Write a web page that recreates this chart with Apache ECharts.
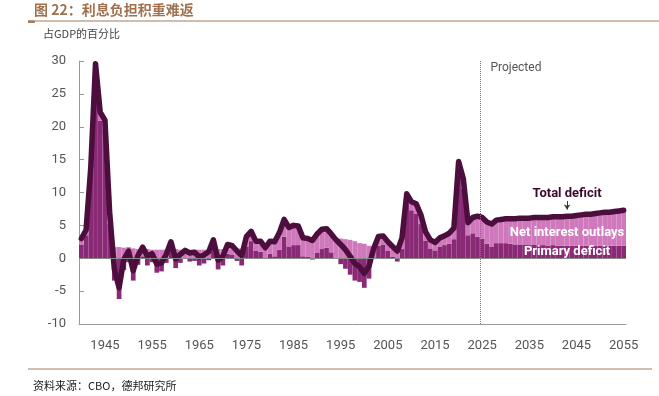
<!DOCTYPE html>
<html>
<head>
<meta charset="utf-8">
<script src="https://cdn.jsdelivr.net/npm/echarts@6/dist/echarts.min.js"></script>
<style>
  html, body { margin: 0; padding: 0; background: #fff; }
  #main { width: 659px; height: 396px; }
</style>
</head>
<body>
<div id="main"></div>
<script>
// 年份 1940-2055
var years = [];
for (var y = 1940; y <= 2055; y++) years.push(String(y));

var xTickLabels = ["1945", "1955", "1965", "1975", "1985", "1995", "2005", "2015", "2025", "2035", "2045", "2055"];

// 基本赤字（占GDP%）
var primaryDeficit = [
  2.1, 3.5, 13.2, 28.7, 20.9, 19.6, 5.2, -3.4, -6.2, -1.8,
  -0.6, -3.4, -1.0, 0.3, -1.1, -0.6, -2.2, -2.0, -0.7, 1.2,
  -1.5, -0.7, -0.1, -0.5, -0.4, -1.1, -0.8, -0.3, 1.5, -1.7,
  -1.1, 0.7, 0.5, -0.4, -1.1, 1.8, 2.6, 1.1, 1.0, -0.1,
  0.7, 0.3, 1.3, 3.3, 1.8, 2.0, 2.0, 0.3, 0.2, -0.2,
  0.8, 1.4, 1.6, 0.9, 0.1, -0.9, -1.6, -2.5, -3.4, -3.6,
  -4.5, -3.1, -0.1, 1.9, 2.1, 1.1, 0.2, -0.5, 1.4, 8.5,
  7.3, 6.8, 5.2, 2.7, 1.5, 1.2, 1.8, 2.0, 2.2, 2.9,
  13.1, 10.6, 3.5, 3.8, 3.3, 3.0, 2.2, 1.8, 2.3, 2.3,
  2.3, 2.2, 2.1, 2.1, 2.1, 2.0, 2.1, 2.0, 2.0, 1.9,
  2.0, 1.9, 1.9, 1.9, 1.9, 1.9, 1.9, 1.9, 1.9, 1.9,
  1.9, 1.9, 1.9, 1.9, 1.9, 1.9
];

// 净利息支出（占GDP%）
var netInterest = [
  0.9, 0.8, 0.7, 0.9, 1.3, 1.4, 1.8, 1.7, 1.7, 1.6,
  1.7, 1.5, 1.4, 1.4, 1.4, 1.3, 1.3, 1.3, 1.3, 1.3,
  1.4, 1.3, 1.3, 1.3, 1.3, 1.3, 1.3, 1.3, 1.3, 1.4,
  1.4, 1.4, 1.4, 1.5, 1.5, 1.5, 1.5, 1.5, 1.6, 1.7,
  1.9, 2.2, 2.6, 2.6, 2.9, 3.0, 2.9, 2.8, 2.8, 2.9,
  2.9, 3.0, 2.9, 2.8, 2.7, 3.0, 2.9, 2.8, 2.6, 2.3,
  2.2, 1.9, 1.6, 1.4, 1.3, 1.4, 1.6, 1.6, 1.7, 1.3,
  1.3, 1.5, 1.4, 1.3, 1.3, 1.2, 1.3, 1.4, 1.6, 1.7,
  1.6, 1.5, 1.9, 2.4, 3.1, 3.2, 3.3, 3.4, 3.5, 3.6,
  3.7, 3.8, 3.9, 4.0, 4.0, 4.1, 4.1, 4.2, 4.2, 4.3,
  4.3, 4.4, 4.4, 4.5, 4.5, 4.6, 4.7, 4.8, 4.8, 4.9,
  5.0, 5.1, 5.1, 5.2, 5.3, 5.4
];

// 总赤字（占GDP%）
var totalDeficit = [
  3.0, 4.3, 13.9, 29.6, 22.2, 21.0, 7.0, -1.7, -4.5, -0.2,
  1.1, -1.9, 0.4, 1.7, 0.3, 0.7, -0.9, -0.7, 0.6, 2.5,
  -0.1, 0.6, 1.2, 0.8, 0.9, 0.2, 0.5, 1.0, 2.8, -0.3,
  0.3, 2.1, 1.9, 1.1, 0.4, 3.3, 4.1, 2.6, 2.6, 1.6,
  2.6, 2.5, 3.9, 5.9, 4.7, 5.0, 4.9, 3.1, 3.0, 2.7,
  3.7, 4.4, 4.5, 3.7, 2.8, 2.1, 1.3, 0.3, -0.8, -1.3,
  -2.3, -1.2, 1.5, 3.3, 3.4, 2.5, 1.8, 1.1, 3.1, 9.8,
  8.6, 8.3, 6.6, 4.0, 2.8, 2.4, 3.1, 3.4, 3.8, 4.6,
  14.7, 12.1, 5.4, 6.2, 6.4, 6.2, 5.5, 5.2, 5.8, 5.9,
  6.0, 6.0, 6.0, 6.1, 6.1, 6.1, 6.2, 6.2, 6.2, 6.2,
  6.3, 6.3, 6.3, 6.4, 6.4, 6.5, 6.6, 6.7, 6.7, 6.8,
  6.9, 7.0, 7.0, 7.1, 7.2, 7.3
];

var projectedFrom = 2024.5;

var latin = "Roboto, 'Liberation Sans', sans-serif";
var cjk = "'Noto Sans CJK SC', sans-serif";

function isTick(index, value) {
  return xTickLabels.indexOf(value) >= 0;
}

var chart = echarts.init(document.getElementById("main"));
chart.setOption({
  animation: false,
  title: [
    {
      text: "图 22：利息负担积重难返",
      left: 29, top: -2,
      textStyle: { fontFamily: cjk, fontSize: 14, fontWeight: "bold", color: "#A0714F" }
    },
    {
      text: "占GDP的百分比",
      left: 38, top: 23,
      textStyle: { fontFamily: cjk, fontSize: 11, fontWeight: "normal", color: "#444" }
    },
    {
      text: "资料来源：CBO，德邦研究所",
      left: 28, top: 375,
      textStyle: { fontFamily: cjk, fontSize: 11, fontWeight: "normal", color: "#222" }
    }
  ],
  graphic: [
    { type: "line", shape: { x1: 28, y1: 21, x2: 659, y2: 21 }, style: { stroke: "#A57D5B", lineWidth: 1.2 } },
    { type: "rect", shape: { x: 28, y: 20.5, width: 7, height: 2.5 }, style: { fill: "#A57D5B" } },
    { type: "line", shape: { x1: 28, y1: 369, x2: 652, y2: 369 }, style: { stroke: "#A57D5B", lineWidth: 1.2 } }
  ],
  grid: { left: 79, right: 33, top: 61, bottom: 72 },
  xAxis: [
    {
      type: "category",
      data: years,
      boundaryGap: true,
      axisLine: { onZero: false, lineStyle: { color: "#999" } },
      axisTick: { inside: true, alignWithLabel: true, interval: isTick, length: 5, lineStyle: { color: "#999" } },
      axisLabel: { interval: isTick, margin: 15, color: "#555", fontSize: 13, fontFamily: latin },
      splitLine: { show: false }
    },
    {
      type: "value",
      show: false,
      min: 1939.5,
      max: 2055.5,
      splitLine: { show: false }
    }
  ],
  yAxis: {
    type: "value",
    min: -10,
    max: 30,
    interval: 5,
    axisLine: { show: true, lineStyle: { color: "#999" } },
    axisTick: { show: true, inside: true, length: 5, lineStyle: { color: "#999" } },
    axisLabel: { color: "#555", fontSize: 13, fontFamily: latin, margin: 13 },
    splitLine: { show: false }
  },
  series: [
    {
      name: "Primary deficit",
      type: "bar",
      stack: "deficit",
      barCategoryGap: "0%",
      itemStyle: { color: "#8A2A77" },
      data: primaryDeficit
    },
    {
      name: "Net interest outlays",
      type: "bar",
      stack: "deficit",
      barCategoryGap: "0%",
      itemStyle: { color: "#CF78BB" },
      data: netInterest
    },
    {
      name: "Total deficit",
      type: "line",
      data: totalDeficit,
      symbol: "none",
      z: 4,
      lineStyle: { color: "#4C0E3D", width: 5.5, cap: "round", join: "round" },
      markLine: {
        silent: true,
        symbol: ["none", "arrow"],
        symbolSize: 5,
        label: { show: false },
        lineStyle: { color: "#333", width: 1, type: "solid" },
        data: [[{ coord: ["2043", 8.7] }, { coord: ["2043", 7.4] }]]
      },
      markPoint: {
        symbol: "circle",
        symbolSize: 0,
        silent: true,
        label: { show: true, position: "inside", fontFamily: latin, fontWeight: "bold", fontSize: 13 },
        data: [
          { coord: ["2043", 9.8], label: { formatter: "Total deficit", color: "#3A0A2E" } },
          { coord: ["2043", 3.85], label: { formatter: "Net interest outlays", color: "#fff" } },
          { coord: ["2043", 1.06], label: { formatter: "Primary deficit", color: "#fff" } }
        ]
      }
    },
    {
      // 零线与预测分隔线
      type: "line",
      xAxisIndex: 1,
      data: [[projectedFrom, 0]],
      symbol: "none",
      silent: true,
      z: 5,
      lineStyle: { opacity: 0 },
      markLine: {
        silent: true,
        symbol: "none",
        label: { show: false },
        data: [
          { yAxis: 0, lineStyle: { color: "#888", width: 1, type: "solid" } },
          { xAxis: projectedFrom, lineStyle: { color: "#777", width: 1, type: "dotted" } }
        ]
      },
      markPoint: {
        symbol: "circle",
        symbolSize: 0,
        silent: true,
        data: [
          {
            coord: [projectedFrom + 1.2, 29],
            label: { show: true, position: "right", formatter: "Projected", color: "#555", fontSize: 12, fontFamily: latin }
          }
        ]
      }
    }
  ]
});
</script>
</body>
</html>
